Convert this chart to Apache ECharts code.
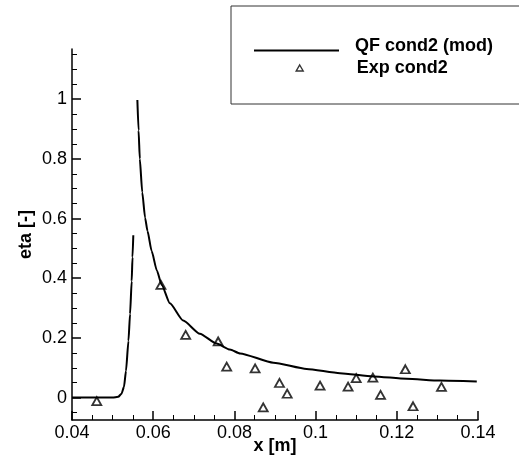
<!DOCTYPE html>
<html>
<head>
<meta charset="utf-8">
<script src="https://cdn.jsdelivr.net/npm/echarts@6/dist/echarts.min.js"></script>
<style>
  html, body { margin: 0; padding: 0; background: #fff; }
  #chart { width: 519px; height: 464px; }
</style>
</head>
<body>
<div id="chart"></div>
<script>
// model curve, first branch (rise) then second branch (decay); '-' breaks the line
var qfX = [0.04, 0.045, 0.05, 0.0514, 0.0522, 0.0528, 0.0533, 0.0539, 0.0543, 0.0547, 0.0549, 0.0551,
           0.0556,
           0.0561, 0.0564, 0.0567, 0.0573, 0.0580, 0.0586, 0.0596, 0.0609, 0.0621, 0.0641, 0.0674,
           0.0715, 0.0756, 0.0789, 0.0814, 0.0896, 0.0978, 0.106, 0.1142, 0.1224, 0.1306, 0.1397];
var qfY = [0, 0, 0, 0.003, 0.013, 0.036, 0.09, 0.19, 0.28, 0.39, 0.47, 0.544,
           '-',
           0.997, 0.895, 0.80, 0.688, 0.603, 0.558, 0.492, 0.426, 0.377, 0.316, 0.258,
           0.214, 0.181, 0.161, 0.148, 0.117, 0.096, 0.082, 0.071, 0.063, 0.057, 0.054];

// experimental points
var expX = [0.0461, 0.0619, 0.068, 0.076, 0.0781, 0.0851, 0.0871, 0.0911, 0.093, 0.1011,
            0.108, 0.110, 0.1141, 0.116, 0.1221, 0.124, 0.131];
var expY = [-0.012, 0.378, 0.21, 0.188, 0.104, 0.098, -0.033, 0.049, 0.013, 0.04,
            0.037, 0.065, 0.067, 0.009, 0.095, -0.029, 0.036];

var yMajorTicks = [0, 0.2, 0.4, 0.6, 0.8, 1];
var yMinorTicks = [-0.05, 0.05, 0.1, 0.15, 0.25, 0.3, 0.35, 0.45, 0.5, 0.55, 0.65, 0.7, 0.75,
                   0.85, 0.9, 0.95, 1.05, 1.1, 1.15];

var xMin = 0.04, xMax = 0.14, xStep = 0.02;
var yMin = -0.075, yMax = 1.168;

var font = '"Liberation Sans", Arial, sans-serif';

var qfData = qfX.map(function (x, i) { return [x, qfY[i]]; });
var expData = expX.map(function (x, i) { return [x, expY[i]]; });

var legendText = { fontFamily: font, fontWeight: 'bold', fontSize: 18, color: '#000' };

var myChart = echarts.init(document.getElementById('chart'));
myChart.setOption({
  animation: false,
  backgroundColor: '#fff',
  grid: { left: 72, right: 41, top: 49, bottom: 44, containLabel: false },
  legend: [{
    // boxed legend (line entry), box runs off the right edge
    orient: 'vertical',
    left: 231,
    top: 6,
    padding: [31, 80, 49, 23],
    borderColor: '#333',
    borderWidth: 1,
    itemWidth: 85,
    itemHeight: 11,
    // line drawn slightly below the text centre, like the original
    data: [{ name: 'QF cond2 (mod)', icon: 'path://M0,0L0,0ZM0,9L85,9L85,11L0,11Z' }],
    textStyle: Object.assign({ padding: [0, 0, 0, 11] }, legendText)
  }, {
    orient: 'vertical',
    left: 295.5,
    top: 59,
    padding: 0,
    itemWidth: 7,
    itemHeight: 6,
    itemStyle: { borderWidth: 1.4 },
    data: [{ name: 'Exp cond2', icon: 'triangle' }],
    textStyle: Object.assign({ padding: [0, 0, 0, 48.5] }, legendText)
  }],
  xAxis: {
    type: 'value',
    min: xMin,
    max: xMax,
    interval: xStep,
    name: 'x [m]',
    nameLocation: 'middle',
    nameGap: 17,
    nameMoveOverlap: false,
    nameTextStyle: { fontFamily: font, fontWeight: 'bold', fontSize: 18, color: '#000' },
    axisLine: { show: true, onZero: false, lineStyle: { color: '#000', width: 1.5 } },
    axisTick: { show: true, inside: true, length: 9, lineStyle: { color: '#000', width: 1.5 } },
    minorTick: { show: true, splitNumber: 4, length: 5, lineStyle: { color: '#000', width: 1 } },
    axisLabel: { margin: 4, fontFamily: font, fontSize: 18, color: '#000' },
    splitLine: { show: false }
  },
  yAxis: [{
    type: 'value',
    min: yMin,
    max: yMax,
    position: 'left',
    name: 'eta [-]',
    nameLocation: 'middle',
    nameRotate: 90,
    nameGap: 37,
    nameMoveOverlap: false,
    nameTextStyle: { fontFamily: font, fontWeight: 'bold', fontSize: 18, color: '#000' },
    axisLine: { show: true, onZero: false, lineStyle: { color: '#000', width: 1.5 } },
    axisTick: { show: true, inside: true, length: 9, customValues: yMajorTicks, lineStyle: { color: '#000', width: 1.5 } },
    axisLabel: { margin: 5, customValues: yMajorTicks, fontFamily: font, fontSize: 18, color: '#000' },
    splitLine: { show: false }
  }, {
    // minor ticks only
    type: 'value',
    min: yMin,
    max: yMax,
    position: 'left',
    axisLine: { show: false },
    axisTick: { show: true, inside: true, length: 5, customValues: yMinorTicks, lineStyle: { color: '#000', width: 1 } },
    axisLabel: { show: false },
    splitLine: { show: false }
  }],
  series: [{
    name: 'QF cond2 (mod)',
    type: 'line',
    data: qfData,
    symbol: 'none',
    smooth: 0.2,
    smoothMonotone: 'x',
    connectNulls: false,
    lineStyle: { color: '#000', width: 2 },
    itemStyle: { color: '#000' }
  }, {
    name: 'Exp cond2',
    type: 'scatter',
    data: expData,
    symbol: 'triangle',
    symbolSize: [9, 8],
    itemStyle: { color: '#fff', borderColor: '#000', borderWidth: 1.8 }
  }]
});
</script>
</body>
</html>
